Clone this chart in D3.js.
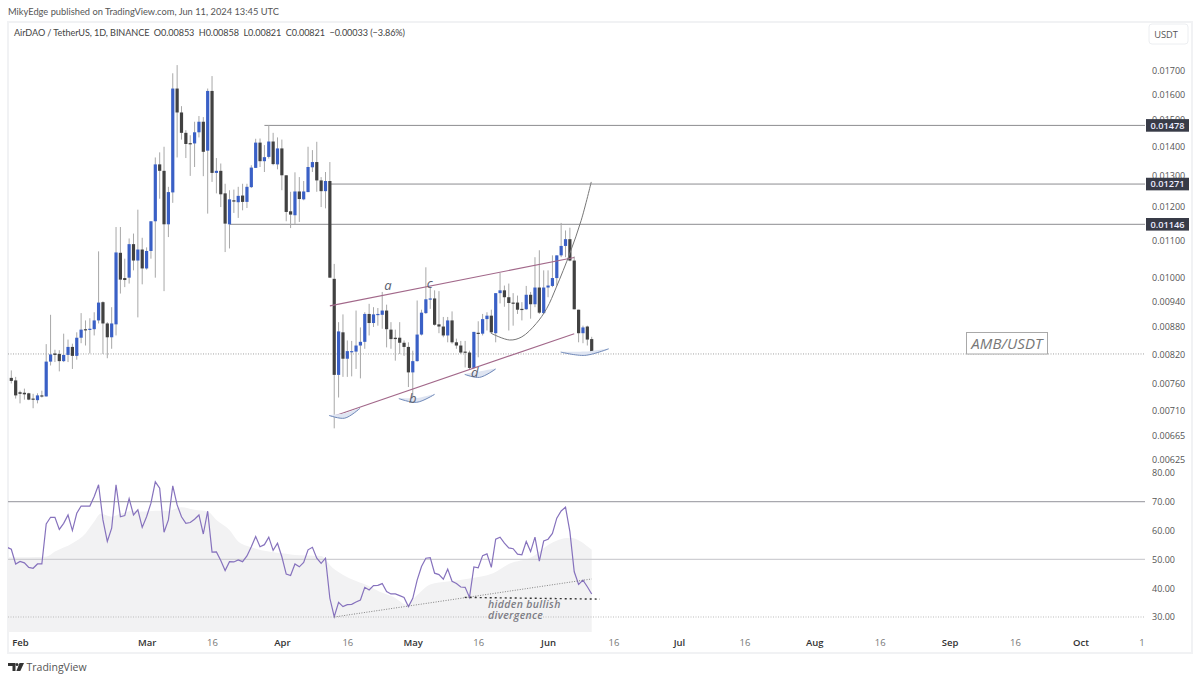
<!DOCTYPE html>
<html><head><meta charset="utf-8">
<script src="https://cdn.jsdelivr.net/npm/d3@7/dist/d3.min.js"></script>
<style>
html,body{margin:0;padding:0;background:#fff}
svg{display:block}
text{font-family:"Open Sans",sans-serif}
text.hd{font-family:Lato,sans-serif;white-space:pre}
</style></head><body><svg id="c" width="1200" height="681"></svg>
<script>
// Daily candles from 30 Jan 2024, prices in units of 0.00001 USDT
const openE5 = [772,767,744,743,742,732,729,738,736,805,
822,821,806,819,836,817,856,875,874,875,
895,938,888,857,886,1065,998,999,1089,1044,
1074,1023,1070,1155,1337,1315,1146,1244,1625,1528,
1450,1412,1411,1452,1492,1385,1615,1308,1315,1241,
1146,1219,1213,1234,1214,1261,1325,1414,1348,1363,
1418,1337,1393,1300,1185,1173,1247,1222,1245,1327,
1345,1283,1248,1281,996,778,868,811,826,826,
839,847,910,889,909,908,918,874,856,856,
845,836,783,806,863,912,945,947,886,881,
861,895,846,839,826,824,792,867,865,898,
906,866,960,967,950,937,937,922,921,956,
933,974,912,974,978,998,1058,1084,1103,1044,
920,866,881,853];
const closeE5 = [766,738,741,740,730,730,738,736,805,820,
819,806,819,836,817,856,874,873,876,895,
937,888,857,888,1066,994,993,1089,1044,1074,
1023,1070,1155,1337,1315,1146,1245,1625,1528,1450,
1409,1409,1452,1492,1381,1615,1308,1315,1238,1148,
1222,1215,1233,1214,1262,1326,1414,1348,1362,1418,
1338,1393,1300,1183,1175,1247,1223,1247,1328,1345,
1283,1248,1281,999,778,870,811,827,827,839,
847,910,889,909,910,918,875,853,853,845,
836,783,806,863,913,945,947,885,881,861,
895,846,839,824,824,792,869,865,898,906,
868,960,967,950,936,935,920,920,956,933,
974,913,974,979,998,1058,1084,1103,1044,921,
866,879,852,821];
const highE5 = [787,774,747,751,743,741,742,747,842,908,
830,829,865,852,843,868,912,895,900,914,
1069,940,891,926,1138,1138,1049,1105,1119,1190,
1107,1080,1155,1361,1379,1399,1262,1690,1726,1553,
1460,1441,1492,1514,1510,1625,1678,1359,1340,1272,
1251,1253,1262,1272,1272,1334,1428,1429,1405,1479,
1450,1433,1425,1300,1246,1310,1294,1281,1399,1387,
1417,1294,1311,1345,1035,891,909,850,849,918,
879,914,934,926,924,963,932,891,874,891,
850,846,828,942,920,1026,974,967,965,903,
903,916,854,849,849,828,869,893,910,914,
920,960,1011,979,984,960,954,938,978,963,
1053,1072,1018,1018,1058,1058,1150,1128,1136,1055,
920,883,883,858];
const lowE5 = [761,732,723,730,729,714,723,734,736,797,
804,785,804,804,790,809,844,839,822,861,
888,821,812,832,861,959,975,984,1018,902,
982,1020,1049,999,1224,965,1109,1211,1361,1425,
1359,1298,1328,1433,1297,1178,1278,1241,1198,1067,
1077,1180,1165,1188,1195,1258,1325,1328,1311,1357,
1334,1320,1251,1155,1135,1146,1153,1219,1245,1311,
1246,1198,1194,999,678,734,774,774,775,790,
771,832,861,880,883,876,835,832,807,821,
817,754,728,805,861,910,922,883,866,857,
846,843,832,821,793,789,790,814,861,872,
865,846,935,927,872,883,910,895,920,899,
926,910,910,950,975,979,1053,1053,1042,921,
846,844,839,821];
// RSI, starting one day before the first candle
const rsiValues = [54.2,53.5,48.4,49.3,48.8,47.2,46.9,48.4,48.4,62.3,64.6,
64.6,60.4,62.5,65.4,60,66,68.5,68.5,68.5,71.8,
75.9,63.7,56.2,60.8,75.9,64.8,65.2,71.1,65.4,67.2,
61.1,64.8,69.5,76.9,74.7,59.4,63.7,75.5,68.9,64.8,
62.5,62.8,63.9,65.4,58.8,66.7,52.5,52.6,49.6,46.1,
49.2,49.1,49.8,49.2,51.2,54.4,57.9,54.4,55.1,57.7,
53.1,55.6,50.9,44.9,44.4,48.4,47.4,48.9,53.3,54.2,
50.4,48.6,50.4,36.5,30.1,35.1,33.6,34.3,34.4,35.2,
35.9,40.3,39.4,40.9,41,41.6,38.8,38,38,37.4,
36.8,33.6,36.5,42.8,47.5,50.4,50.6,45.2,44.7,43.1,
46.6,42.4,41.6,40.4,40.3,36.8,47.4,47.1,51.3,51.9,
47.2,57,57.7,55.6,54,53.7,51.8,51.6,56.2,52.7,
57.7,49.4,56.4,57,59,64.3,66.8,68.1,59.6,45.7,
41.3,42.8,40.5,38];
// Upper edge of the shaded RSI average, read at these day indices
const maDays = [-1,0,8,10,14,17,19,20.5,23,25,28,30,33,36,39,42,45,47,50,52,55,59,62,66,71,72,73,75.4,78,81.4,84.4,87.5,90.7,93,96,100,105,110.4,114,119.5,123,128,133];
const maValues = [50.7,50.7,50.9,52.7,55.6,59,63.1,65.8,64.8,65.8,66.9,66.6,66.9,66.9,68.1,67.2,66.6,63.7,60.2,56.2,54.2,52.7,52.1,51.4,51.2,50,48,45.2,43.1,41.1,38.8,37,34.2,37.6,41.3,42.3,43.4,45.2,48.4,51,55,57.5,53.3];

const priceTicks = [0.017,0.016,0.015,0.014,0.013,0.012,0.011,0.01,0.0094,0.0088,0.0082,0.0076,0.0071,0.00665,0.00625];
const levelPrices = [0.01478,0.01271,0.01146];
const levelStartDays = [58,73,50];
const lastPrice = 0.00821;
const rsiTicks = [80,70,60,50,40,30];
const timeTicks = [[2,"Feb",1],[31,"Mar",1],[46,"16",0],[62,"Apr",1],[77,"16",0],[92,"May",1],[107,"16",0],[123,"Jun",1],[138,"16",0],[153,"Jul",1],[168,"16",0],[184,"Aug",1],[199,"16",0],[215,"Sep",1],[230,"16",0],[245,"Oct",1],[259,"1",0]];

const channelTop = [[73,0.00929],[129,0.01052]];
const channelBottom = [[74,0.00700],[129,0.00865]];
const cupCurve = [[109.9,866],[114.2,851],[117,858],[120.3,888],[122.7,923],[124.9,975],[128,1064],[130.6,1158],[132.9,1278]];
const crescents = [
  [[72.8,701],[76.4,696],[79.9,714],[76.4,705]],
  [[88.8,732],[92.9,725],[97,740],[92.9,733]],
  [[103.9,779],[107.3,773],[111,790],[107.3,785]],
  [[125.9,825],[131.4,818],[136.9,832],[131.4,826]]
];
const waveLabels = [["a",86.3,0.00967],["b",92,0.00723],["c",95.9,0.00974],["d",106.2,0.00773]];
const rsiTrend = [[74,30],[133,43.2]];
const rsiFloor = [[103.9,36.8],[134.9,36.2]];

const L = 8, R = 1145, T = 22, B = 632;
const svg = d3.select("#c");
const x = d3.scaleLinear().domain([0,133]).range([11.3,591.7]);
const y = d3.scaleLog().domain([0.017,0.00625]).range([71,460]);
const yR = d3.scaleLinear().domain([80,30]).range([472.9,617]);
const e5 = v => v/1e5;

const defs = svg.append("defs");
defs.append("clipPath").attr("id","plot").append("rect").attr("x",L).attr("y",T).attr("width",R-L).attr("height",B-T);

// frame
svg.append("path").attr("d",`M${L} 22H1192V653H${L}Z`).attr("fill","none").attr("stroke","#f1f2f4").attr("stroke-width",2);

const plot = svg.append("g").attr("clip-path","url(#plot)");

// RSI shading
const maPts = maDays.map((d,i)=>[d,maValues[i]]);
plot.append("path").attr("fill","#f2f2f3")
  .attr("d",d3.area().x(d=>x(d[0])).y1(d=>yR(d[1])).y0(B).curve(d3.curveMonotoneX)(maPts));

// RSI guide lines
[[70,"#a8a8ae",null,1.2],[50,"#cfcfd3",null,1.2],[30,"#bbb","1,1.5",1]].forEach(g=>{
  plot.append("line").attr("x1",L).attr("x2",R).attr("y1",yR(g[0])).attr("y2",yR(g[0]))
    .attr("stroke",g[1]).attr("stroke-width",g[3]).attr("stroke-dasharray",g[2]);
});

// RSI
const rsiPts = rsiValues.map((v,i)=>[i-1,v]);
const seg = d3.line().x(d=>x(d[0])).y(d=>yR(d[1]));
plot.append("path").attr("fill","none").attr("stroke","#8672bd").attr("stroke-width",1.2).attr("d",seg(rsiPts));
plot.append("path").attr("fill","none").attr("stroke","#666").attr("stroke-width",.8).attr("stroke-dasharray","1,1.5").attr("d",seg(rsiTrend));
plot.append("path").attr("fill","none").attr("stroke","#333").attr("stroke-width",1.4).attr("stroke-dasharray","2,3").attr("d",seg(rsiFloor));

// last price
plot.append("line").attr("x1",L).attr("x2",R).attr("y1",y(lastPrice)).attr("y2",y(lastPrice))
  .attr("stroke","#8a8a8a").attr("stroke-width",.8).attr("stroke-dasharray","1,1.5");

// levels
levelPrices.forEach((p,i)=>{
  plot.append("line").attr("x1",x(levelStartDays[i])).attr("x2",R).attr("y1",y(p)).attr("y2",y(p))
    .attr("stroke","#8c8c90").attr("stroke-width",1);
});

// candles
const candles = openE5.map((o,i)=>({i,o:e5(o),c:e5(closeE5[i]),h:e5(highE5[i]),l:e5(lowE5[i])}));
const g = plot.append("g");
g.selectAll("line.w").data(candles).join("line").attr("class","w")
  .attr("x1",d=>x(d.i)).attr("x2",d=>x(d.i)).attr("y1",d=>y(d.h)).attr("y2",d=>y(d.l))
  .attr("stroke","#a8a8a8").attr("stroke-width",1);
g.selectAll("rect").data(candles).join("rect")
  .attr("x",d=>x(d.i)-1.6).attr("width",3.2)
  .attr("y",d=>y(Math.max(d.o,d.c)))
  .attr("height",d=>Math.max(1.2,Math.abs(y(d.o)-y(d.c))))
  .attr("fill",d=>d.c>=d.o?"#3a60c6":"#414141");

// channel
const pl = d3.line().x(d=>x(d[0])).y(d=>y(d[1]));
[channelTop,channelBottom].forEach(c=>plot.append("path").attr("fill","none").attr("stroke","#a2688a").attr("stroke-width",1.1).attr("d",pl(c)));

// cup curve
const plE5 = d3.line().x(d=>x(d[0])).y(d=>y(e5(d[1])));
plot.append("path").attr("fill","none").attr("stroke","#777").attr("stroke-width",1)
  .attr("d",plE5.curve(d3.curveCatmullRom)(cupCurve));

// crescents
crescents.forEach(c=>{
  plot.append("path").attr("fill","#dfe5f2").attr("stroke","none")
    .attr("d",plE5.curve(d3.curveCatmullRomClosed)(c));
  plot.append("path").attr("fill","none").attr("stroke","#6f88b8").attr("stroke-width",1)
    .attr("d",plE5.curve(d3.curveCatmullRom)(c.slice(0,3)));
});

// wave labels
svg.selectAll("text.wave").data(waveLabels).join("text").attr("class","wave")
  .attr("x",d=>x(d[1])).attr("y",d=>y(d[2])).attr("text-anchor","middle")
  .attr("font-size",13).attr("font-style","italic").attr("fill","#5a6170").text(d=>d[0]);

// divergence note
[["hidden bullish",607.5],["divergence",618.5]].forEach(t=>{
  svg.append("text").attr("x",488).attr("y",t[1]).attr("font-size",10.5).attr("font-style","italic")
    .attr("font-weight",600).attr("letter-spacing",.35).attr("fill","#7d7d85").text(t[0]);
});

// AMB/USDT note
svg.append("rect").attr("x",966.5).attr("y",332.5).attr("width",81).attr("height",21.5).attr("fill","#fff").attr("stroke","#a9a9a9").attr("stroke-width",1);
svg.append("text").attr("x",1007).attr("y",349).attr("text-anchor","middle").attr("font-size",15).attr("font-style","italic").attr("letter-spacing",.1).attr("fill","#777").text("AMB/USDT");

// price axis
const axisPrice = d3.axisRight(y).tickValues(priceTicks).tickSize(0).tickPadding(6).tickFormat(d3.format(".5f"));
const gp = svg.append("g").attr("transform","translate(1146,0)").call(axisPrice);
gp.select(".domain").remove();
gp.selectAll("text").attr("font-size",9).attr("fill","#555").style("font-family",'"Open Sans",sans-serif');

const axisRsi = d3.axisRight(yR).tickValues(rsiTicks).tickSize(0).tickPadding(6).tickFormat(d3.format(".2f"));
const gr = svg.append("g").attr("transform","translate(1146,0)").call(axisRsi);
gr.select(".domain").remove();
gr.selectAll("text").attr("font-size",9).attr("fill","#555").style("font-family",'"Open Sans",sans-serif');

// level tags
levelPrices.forEach(p=>{
  svg.append("rect").attr("x",1146).attr("width",43).attr("y",y(p)-6.3).attr("height",12.6).attr("fill","#383b47");
  svg.append("text").attr("x",1167.5).attr("y",y(p)+3.3).attr("text-anchor","middle").attr("font-size",9.2).attr("font-weight",600).attr("fill","#eef").text(d3.format(".5f")(p));
});

// time axis
const axisTime = d3.axisBottom(x).tickValues(timeTicks.map(t=>t[0])).tickSize(0).tickPadding(0)
  .tickFormat(d=>timeTicks.find(t=>t[0]===d)[1]);
const gt = svg.append("g").attr("transform","translate(0,639)").call(axisTime);
gt.select(".domain").remove();
gt.selectAll("text").attr("font-size",9.5)
  .attr("font-weight",d=>timeTicks.find(t=>t[0]===d)[2]?600:400)
  .attr("fill",d=>timeTicks.find(t=>t[0]===d)[2]?"#333":"#777")
  .style("font-family",'"Open Sans",sans-serif');

// header
svg.append("text").attr("class","hd").attr("x",8).attr("y",15).attr("font-size",9.3).attr("textLength",271).attr("fill","#555").text("MikyEdge published on TradingView.com, Jun 11, 2024 13:45 UTC");
svg.append("text").attr("class","hd").attr("x",14).attr("y",36).attr("font-size",9.1).attr("textLength",391).attr("fill","#444").text("AirDAO / TetherUS, 1D, BINANCE  O0.00853  H0.00858  L0.00821  C0.00821  −0.00033 (−3.86%)");

// currency button
svg.append("rect").attr("x",1149).attr("y",24).attr("width",39).attr("height",20).attr("rx",3).attr("fill","#fff").attr("stroke","#eceef1");
svg.append("text").attr("x",1166).attr("y",37.5).attr("text-anchor","middle").attr("font-size",9.3).attr("fill","#555").text("USDT");

// footer mark
const logo = svg.append("g").attr("fill","#333");
logo.append("path").attr("d","M8 663h7.5v8h-3v-5H8Z");
logo.append("circle").attr("cx",17).attr("cy",664.5).attr("r",1.5);
logo.append("path").attr("d","M19.5 663H24L20.3 671H16.4Z");
svg.append("text").attr("x",26.5).attr("y",671).attr("font-size",10.5).attr("fill","#555").text("TradingView");
</script></body></html>
